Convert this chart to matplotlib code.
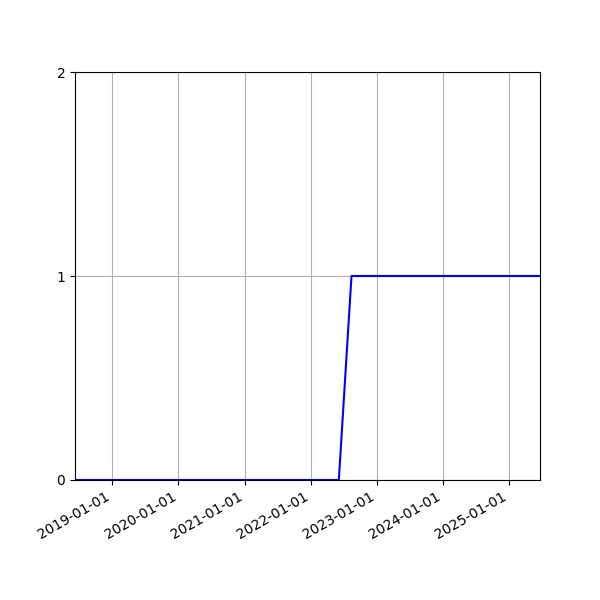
import matplotlib
matplotlib.use("Agg")
import matplotlib.pyplot as plt
import matplotlib.dates as mdates
import numpy as np

dates = np.array(["2018-06-09", "2022-06-05", "2022-08-14", "2025-06-20"], dtype="datetime64[D]")
values = [0, 0, 1, 1]
yticks = [0, 1, 2]

fig, ax = plt.subplots(figsize=(6, 6), dpi=100)
ax.plot(dates, values, color="blue")
ax.set_xlim(dates[0], dates[-1])
ax.set_ylim(0, 2)
ax.set_yticks(yticks)
ax.xaxis.set_major_locator(mdates.YearLocator())
ax.xaxis.set_major_formatter(mdates.DateFormatter("%Y-%m-%d"))
ax.grid(True)
fig.autofmt_xdate()
fig.savefig("out.png")
